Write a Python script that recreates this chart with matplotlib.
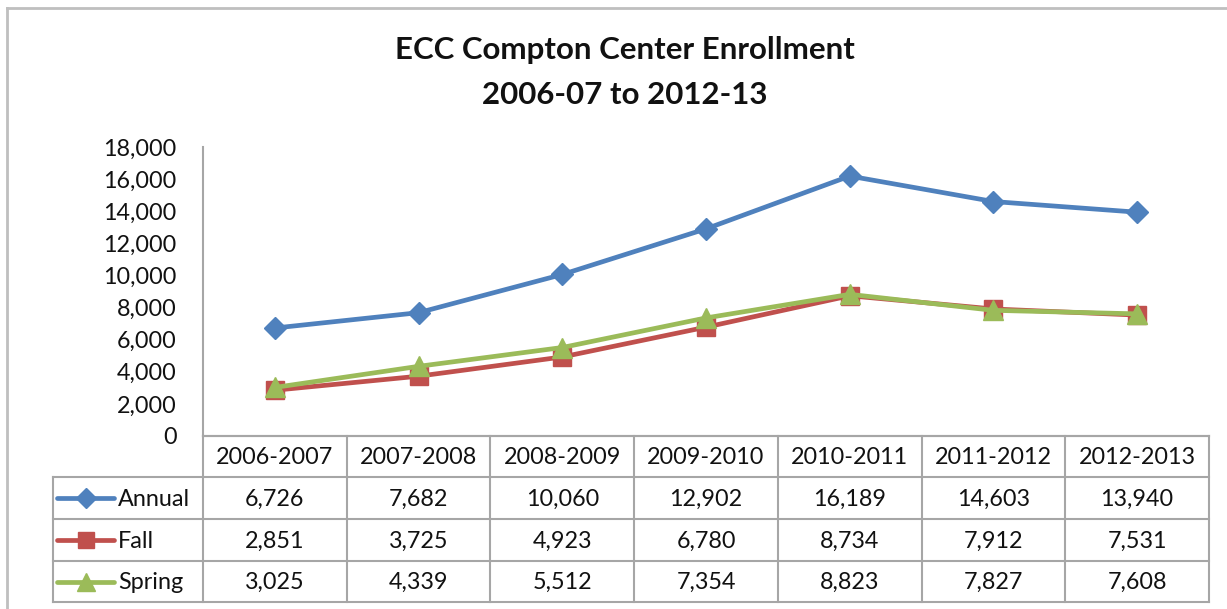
import matplotlib
matplotlib.use("Agg")
import matplotlib.pyplot as plt

categories = ["2006-2007", "2007-2008", "2008-2009", "2009-2010", "2010-2011", "2011-2012", "2012-2013"]
annual = [6726, 7682, 10060, 12902, 16189, 14603, 13940]
fall = [2851, 3725, 4923, 6780, 8734, 7912, 7531]
spring = [3025, 4339, 5512, 7354, 8823, 7827, 7608]
series_names = ["Annual", "Fall", "Spring"]
yticks = [0, 2000, 4000, 6000, 8000, 10000, 12000, 14000, 16000, 18000]
title_lines = ["ECC Compton Center Enrollment", "2006-07 to 2012-13"]

colors = ["#4F81BD", "#C0504D", "#9BBB59"]
markers = ["D", "s", "^"]
msizes = [11, 13, 14]
leg_msizes = [10, 12, 13]
grid_col = "#A6A6A6"
FONT = "Lato"
plt.rcParams["font.family"] = [FONT, "DejaVu Sans"]
TXT = "#111111"

W, H = 1227, 609
fig = plt.figure(figsize=(W / 100, H / 100), dpi=100)

x_left, x_right = 203, 1209
y_top, y_zero = 147, 436
ax = fig.add_axes([x_left / W, 1 - y_zero / H, (x_right - x_left) / W, (y_zero - y_top) / H])
n = len(categories)
xs = list(range(n))
data = [annual, fall, spring]
zorders = [3, 3, 4]
for vals, c, m, ms, zo in zip(data, colors, markers, msizes, zorders):
    ax.plot(xs, vals, color=c, lw=3.4, marker=m, ms=ms, mec=c, mfc=c, zorder=zo, clip_on=False)
ax.set_xlim(-0.5, n - 0.5)
ax.set_ylim(0, 18000)
ax.set_yticks(yticks)
ax.set_yticklabels([f"{v:,}" for v in yticks], fontsize=16.8, color=TXT)
ax.set_xticks([])
ax.tick_params(axis="y", length=0, pad=19)
for s in ["top", "right"]:
    ax.spines[s].set_visible(False)
ax.spines["left"].set_color(grid_col)
ax.spines["bottom"].set_color(grid_col)
ax.spines["left"].set_linewidth(1.5)
ax.spines["bottom"].set_linewidth(1.5)

# Title
fig.text(625 / W, 1 - 50 / H, title_lines[0], ha="center", va="center", fontsize=22.5,
         fontweight="bold", color=TXT)
fig.text(625 / W, 1 - 95 / H, title_lines[1], ha="center", va="center", fontsize=22.5,
         fontweight="bold", color=TXT)

# Table overlay in pixel coordinates
tax = fig.add_axes([0, 0, 1, 1])
tax.set_xlim(0, W)
tax.set_ylim(H, 0)
tax.axis("off")

rows = [436, 477, 519, 561, 602]
leg_left = 53
colw = (x_right - x_left) / n
cols = [x_left + i * colw for i in range(n + 1)]
lw = 1.5
tax.plot([x_left, x_right], [rows[0], rows[0]], color=grid_col, lw=lw)
for r in rows[1:]:
    tax.plot([leg_left, x_right], [r, r], color=grid_col, lw=lw)
for i, cx in enumerate(cols):
    tax.plot([cx, cx], [rows[0], rows[-1]], color=grid_col, lw=lw)
tax.plot([leg_left, leg_left], [rows[1], rows[-1]], color=grid_col, lw=lw)

fs = 16.8
for i, cat in enumerate(categories):
    cx = (cols[i] + cols[i + 1]) / 2
    tax.text(cx, (rows[0] + rows[1]) / 2 + 1, cat, ha="center", va="center", fontsize=fs, color=TXT)
for j, (name, vals, c, m, ms) in enumerate(zip(series_names, data, colors, markers, leg_msizes)):
    yc = (rows[j + 1] + rows[j + 2]) / 2
    tax.plot([57, 114], [yc, yc], color=c, lw=3.4, solid_capstyle="round")
    tax.plot([86], [yc], marker=m, ms=ms, color=c, mec=c)
    tax.text(118, yc + 1, name, ha="left", va="center", fontsize=fs, color=TXT)
    for i, v in enumerate(vals):
        cx = (cols[i] + cols[i + 1]) / 2
        tax.text(cx, yc + 1, f"{v:,}", ha="center", va="center", fontsize=fs, color=TXT)

# chart frame (top and left visible)
tax.plot([7, W], [8, 8], color="#BFBFBF", lw=2)
tax.plot([7, 7], [8, H], color="#BFBFBF", lw=2)

fig.savefig("out.png", dpi=100)
